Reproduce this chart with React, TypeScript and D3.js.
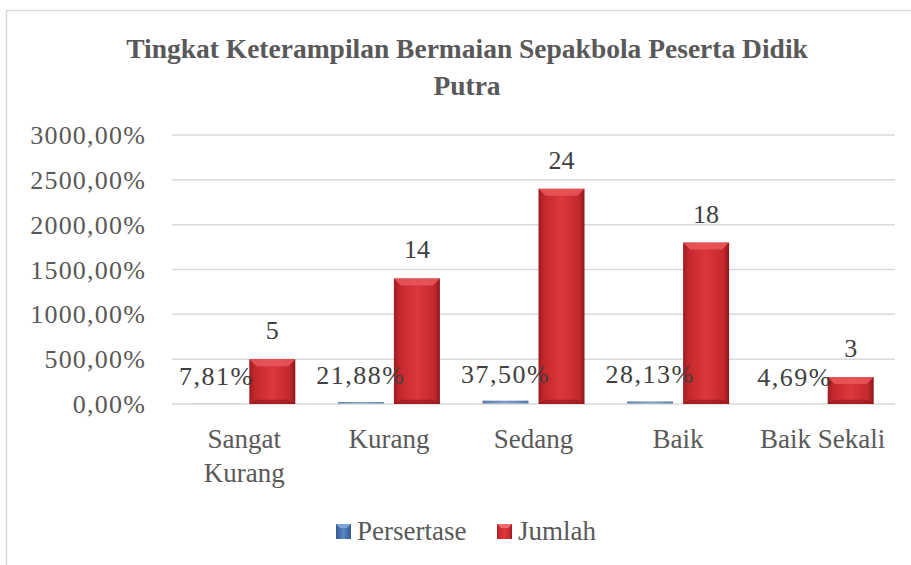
import React from "react";
import * as d3 from "d3";

const categories = ["Sangat Kurang", "Kurang", "Sedang", "Baik", "Baik Sekali"];
const categoryLines = [["Sangat", "Kurang"], ["Kurang"], ["Sedang"], ["Baik"], ["Baik Sekali"]];
const persertase = [0.0781, 0.2188, 0.375, 0.2813, 0.0469];
const jumlah = [5, 14, 24, 18, 3];
const series = ["Persertase", "Jumlah"];
const yTicks = [0, 5, 10, 15, 20, 25, 30];

const W = 911, H = 565;
const FONT = "'Liberation Serif', 'Times New Roman', serif";
const fmtPct = (v: number) => (v * 100).toFixed(2).replace(".", ",") + "%";

export default function App() {
  const x = d3.scaleBand<string>().domain(categories).range([172, 895]).padding(0);
  const step = x.step();
  const sub = d3.scaleBand<string>().domain(series).range([step / 2 - 51, step / 2 + 51]).paddingInner(0.179);
  const y = d3.scaleLinear().domain([0, 30]).range([404, 135]);
  const bw = sub.bandwidth();
  const bev = 7;
  const legendX = [336, 497];

  return (
    <svg width={W} height={H} style={{ position: "absolute", left: 0, top: 0, background: "#fff" }} fontFamily={FONT}>
      <defs>
        <linearGradient id="redH" x1="0" x2="1" y1="0" y2="0">
          <stop offset="0" stopColor="#9e1c20" />
          <stop offset="0.12" stopColor="#c4282c" />
          <stop offset="0.5" stopColor="#dc373b" />
          <stop offset="0.88" stopColor="#c4282c" />
          <stop offset="1" stopColor="#8e171b" />
        </linearGradient>
        <linearGradient id="blueH" x1="0" x2="1" y1="0" y2="0">
          <stop offset="0" stopColor="#2f5a94" />
          <stop offset="0.5" stopColor="#5d86c0" />
          <stop offset="1" stopColor="#2f5a94" />
        </linearGradient>
      </defs>
      <rect x={6.5} y={10.5} width={1000} height={1000} fill="none" stroke="#d9d9d9" strokeWidth={1.5} />
      <text x={467} y={58} textAnchor="middle" fontSize={27.5} fontWeight="bold" fill="#595959">
        Tingkat Keterampilan Bermaian Sepakbola Peserta Didik
      </text>
      <text x={467} y={95} textAnchor="middle" fontSize={27.5} fontWeight="bold" fill="#595959">Putra</text>

      {yTicks.map((t) => (
        <g key={t}>
          <line x1={172} x2={895} y1={y(t)} y2={y(t)} stroke="#d9d9d9" strokeWidth={1.5} />
          <text x={146} y={y(t) + 9} textAnchor="end" fontSize={26} letterSpacing={1.2} fill="#595959">
            {fmtPct(t)}
          </text>
        </g>
      ))}

      {categories.map((c, i) => {
        const x0 = x(c)!;
        const bx = x0 + sub("Persertase")!;
        const rx = x0 + sub("Jumlah")!;
        const by = y(persertase[i]);
        const ry = y(jumlah[i]);
        const y0 = y(0);
        return (
          <g key={c}>
            <rect x={bx} y={by} width={bw} height={Math.max(0, y0 - by - 0.5)} fill="url(#blueH)" opacity={0.8} />
            <rect x={rx} y={ry} width={bw} height={y0 - ry} fill="url(#redH)" />
            <polygon
              points={`${rx},${ry} ${rx + bw},${ry} ${rx + bw - bev},${ry + bev} ${rx + bev},${ry + bev}`}
              fill="#e9585b"
              opacity={0.85}
            />
            <polygon
              points={`${rx},${y0} ${rx + bw},${y0} ${rx + bw - bev},${y0 - bev * 0.6} ${rx + bev},${y0 - bev * 0.6}`}
              fill="#8a1519"
              opacity={0.6}
            />
            <text x={bx + bw / 2} y={by - 18} textAnchor="middle" fontSize={26} letterSpacing={1.5} fill="#404040">
              {fmtPct(persertase[i])}
            </text>
            <text x={rx + bw / 2} y={ry - 20} textAnchor="middle" fontSize={26} fill="#404040">
              {jumlah[i]}
            </text>
            {categoryLines[i].map((ln, k) => (
              <text key={k} x={x0 + step / 2} y={448 + k * 34} textAnchor="middle" fontSize={27} fill="#595959">
                {ln}
              </text>
            ))}
          </g>
        );
      })}

      {series.map((s, i) => (
        <g key={s}>
          <rect x={legendX[i]} y={524} width={15} height={15} fill={i === 0 ? "url(#blueH)" : "url(#redH)"} />
          <polygon
            points={`${legendX[i]},524 ${legendX[i] + 15},524 ${legendX[i] + 11},528 ${legendX[i] + 4},528`}
            fill={i === 0 ? "#7fa3d6" : "#ee6a6d"}
          />
          <text x={legendX[i] + 21} y={540} fontSize={27} fill="#595959">{s}</text>
        </g>
      ))}
    </svg>
  );
}
